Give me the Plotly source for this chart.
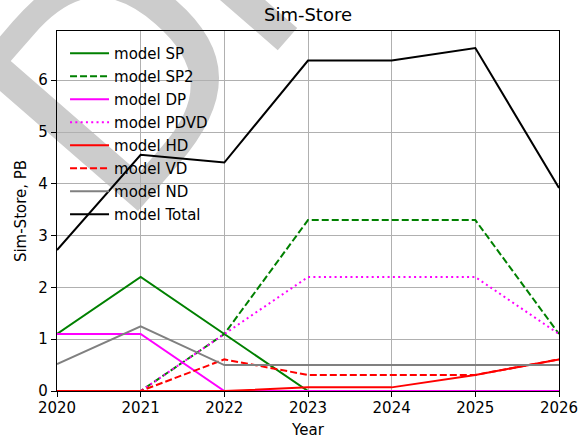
import base64
import plotly.graph_objects as go

years = [2020, 2021, 2022, 2023, 2024, 2025, 2026]
sp    = [1.1, 2.2, 1.1, 0.0, 0.0, 0.0, 0.0]
sp2   = [0.0, 0.0, 1.1, 3.3, 3.3, 3.3, 1.1]
dp    = [1.1, 1.1, 0.0, 0.0, 0.0, 0.0, 0.0]
pdvd  = [0.0, 0.0, 1.1, 2.2, 2.2, 2.2, 1.1]
hd    = [0.0, 0.0, 0.0, 0.07, 0.07, 0.31, 0.61]
vd    = [0.0, 0.0, 0.61, 0.31, 0.31, 0.31, 0.61]
nd    = [0.52, 1.25, 0.5, 0.5, 0.5, 0.5, 0.5]
total = [2.72, 4.56, 4.41, 6.38, 6.38, 6.62, 3.92]

names = ["model SP", "model SP2", "model DP", "model PDVD",
         "model HD", "model VD", "model ND", "model Total"]
series = [sp, sp2, dp, pdvd, hd, vd, nd, total]
colors = ["#008000", "#008000", "#ff00ff", "#ff00ff",
          "#ff0000", "#ff0000", "#808080", "#000000"]
dashes = ["solid", "7px,3px", "solid", "2px,3.3px",
          "solid", "7px,3px", "solid", "solid"]

FW, FH = 579, 440
L, R, T, B = 57, 20, 31, 49
W, H = FW - L - R, FH - T - B
FONT = "DejaVu Sans"

fig = go.Figure()
for i, (nm, ys, c, d) in enumerate(zip(names, series, colors, dashes)):
    fig.add_trace(go.Scatter(x=years, y=ys, mode="lines", name=nm,
                             legendgroup=f"g{i}",
                             line=dict(color=c, width=2, dash=d)))

svg = (f'<svg xmlns="http://www.w3.org/2000/svg" width="{FW}" height="{FH}" '
       f'viewBox="0 0 {FW} {FH}">'
       f'<text x="0" y="0" transform="translate(118.7,233.2) rotate(-49)" '
       f'font-family="DejaVu Sans" font-size="300" letter-spacing="-18" fill="#cccccc">DRAFT</text>'
       f'</svg>')
uri = "data:image/svg+xml;base64," + base64.b64encode(svg.encode()).decode()

fig.add_layout_image(dict(source=uri, xref="paper", yref="paper",
                          x=-L / W, y=1 + T / H, sizex=FW / W, sizey=FH / H,
                          xanchor="left", yanchor="top", sizing="stretch",
                          layer="below"))

axis_common = dict(showline=True, linecolor="black", linewidth=1.2, mirror=True,
                   ticks="outside", ticklen=5, tickwidth=1.2, tickcolor="black",
                   showgrid=True, gridcolor="#b0b0b0", gridwidth=1,
                   zeroline=False, tickfont=dict(family=FONT, size=15, color="black"))

fig.update_xaxes(range=[2020, 2026], dtick=1, tick0=2020, ticklabelstandoff=-2,
                 title=dict(text="Year", font=dict(family=FONT, size=15, color="black"),
                            standoff=8),
                 automargin=False, **axis_common)
fig.update_yaxes(range=[0, 6.95], dtick=1, tick0=0,
                 title=dict(text="Sim-Store, PB", font=dict(family=FONT, size=15, color="black"),
                            standoff=8),
                 automargin=False, **axis_common)

fig.update_layout(
    width=FW, height=FH,
    margin=dict(l=L, r=R, t=T, b=B, pad=0),
    paper_bgcolor="white", plot_bgcolor="rgba(0,0,0,0)",
    font=dict(family=FONT, size=15, color="black"),
    title=dict(text="Sim-Store", x=(L + W / 2) / FW, xanchor="center",
               y=1 - 15 / FH, yanchor="middle",
               font=dict(family=FONT, size=18, color="black")),
    legend=dict(x=0.016, y=0.983, xanchor="left", yanchor="top", itemwidth=39,
                bgcolor="rgba(0,0,0,0)", borderwidth=0, tracegroupgap=0.5,
                font=dict(family=FONT, size=15, color="black")),
    showlegend=True,
)

fig.write_html("out.html", config={"displayModeBar": False},
               post_script="document.body.style.margin='0';document.body.style.overflow='hidden';")
